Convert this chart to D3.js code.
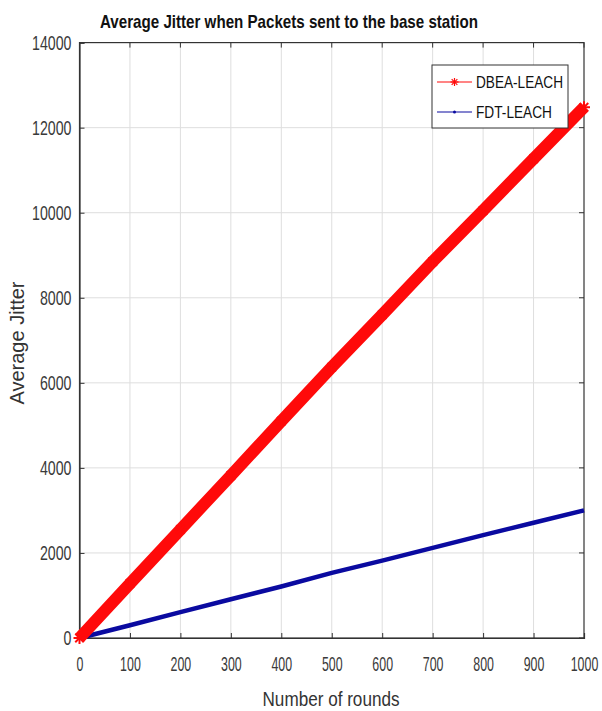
<!DOCTYPE html>
<html><head><meta charset="utf-8">
<script src="https://cdn.jsdelivr.net/npm/d3@7"></script>
<style>body{margin:0;background:#fff}svg{display:block}</style>
</head><body>
<script>
const rounds = [0,100,200,300,400,500,600,700,800,900,1000];
const dbea = [0,1280,2550,3820,5100,6370,7600,8850,10050,11270,12480];
const fdt = [0,300,610,910,1210,1530,1820,2120,2420,2710,3000];
const xTicks = [0,100,200,300,400,500,600,700,800,900,1000];
const yTicks = [0,2000,4000,6000,8000,10000,12000,14000];
const seriesNames = ["DBEA-LEACH","FDT-LEACH"];

const W=602,H=711;
const m={l:79.5,r:18,t:42.6,b:73};
const svg=d3.select("body").append("svg").attr("width",W).attr("height",H);
const x=d3.scaleLinear().domain([0,1000]).range([m.l,W-m.r]);
const y=d3.scaleLinear().domain([0,14000]).range([H-m.b,m.t]);
const font="'Liberation Sans',Arial,sans-serif";

// grid
svg.append("g").selectAll("line").data(xTicks.slice(1,-1)).join("line")
 .attr("x1",d=>x(d)).attr("x2",d=>x(d)).attr("y1",y(0)).attr("y2",y(14000))
 .attr("stroke","#dedede").attr("stroke-width",1);
svg.append("g").selectAll("line").data(yTicks.slice(1,-1)).join("line")
 .attr("y1",d=>y(d)).attr("y2",d=>y(d)).attr("x1",x(0)).attr("x2",x(1000))
 .attr("stroke","#dedede").attr("stroke-width",1);

// axes
const xa=svg.append("g").attr("transform",`translate(0,${y(0)})`)
 .call(d3.axisBottom(x).tickValues(xTicks).tickSize(-5).tickPadding(19).tickFormat(d3.format("d")));
const ya=svg.append("g").attr("transform",`translate(${x(0)},0)`)
 .call(d3.axisLeft(y).tickValues(yTicks).tickSize(-5).tickPadding(8).tickFormat(d3.format("d")));
[xa,ya].forEach(g=>{
 g.selectAll("text").attr("font-family",font).attr("font-size",20).attr("fill","#3a3a3a");
 g.selectAll("line").attr("stroke","#333");g.select(".domain").attr("stroke","#333").attr("stroke-width",1.2);});
xa.selectAll("text").attr("transform","scale(0.62,1)");
ya.selectAll("text").attr("x",-8/0.71).attr("transform","scale(0.71,1)");
// frame + top/right ticks
svg.append("rect").attr("x",x(0)).attr("y",y(14000)).attr("width",x(1000)-x(0)).attr("height",y(0)-y(14000))
 .attr("fill","none").attr("stroke","#333").attr("stroke-width",1.2);
svg.append("g").selectAll("line").data(xTicks).join("line")
 .attr("x1",d=>x(d)).attr("x2",d=>x(d)).attr("y1",y(14000)).attr("y2",y(14000)+5).attr("stroke","#333");
svg.append("g").selectAll("line").data(yTicks).join("line")
 .attr("y1",d=>y(d)).attr("y2",d=>y(d)).attr("x1",x(1000)).attr("x2",x(1000)-5).attr("stroke","#333");

const line=d3.line().x(d=>x(d[0])).y(d=>y(d[1]));
const red="#ff0a0a", blue="#0a0aa0";
const dData=rounds.map((r,i)=>[r,dbea[i]]);
const fData=rounds.map((r,i)=>[r,fdt[i]]);
svg.append("path").datum(fData).attr("d",line).attr("fill","none").attr("stroke",blue).attr("stroke-width",4.5);
svg.append("path").datum(dData).attr("d",line).attr("fill","none").attr("stroke",red).attr("stroke-width",12).attr("stroke-linecap","butt");

function asterisk(g,cx,cy,s,color,w){
 for(let a=0;a<4;a++){const t=a*Math.PI/4;
  g.append("line").attr("x1",cx-s*Math.cos(t)).attr("y1",cy-s*Math.sin(t))
   .attr("x2",cx+s*Math.cos(t)).attr("y2",cy+s*Math.sin(t)).attr("stroke",color).attr("stroke-width",w);}
}
const mk=svg.append("g");
dData.forEach(d=>asterisk(mk,x(d[0]),y(d[1]),6,red,2));

// title and labels
svg.append("text").attr("x",289).attr("y",28).attr("text-anchor","middle")
 .attr("font-family",font).attr("font-weight","bold").attr("font-size",19).attr("fill","#111")
 .attr("textLength",378).attr("lengthAdjust","spacingAndGlyphs")
 .text("Average Jitter when Packets sent to the base station");
svg.append("text").attr("x",331).attr("y",706).attr("text-anchor","middle")
 .attr("font-family",font).attr("font-size",20).attr("fill","#333")
 .attr("textLength",137).attr("lengthAdjust","spacingAndGlyphs").text("Number of rounds");
svg.append("text").attr("transform",`translate(24,343) rotate(-90)`).attr("text-anchor","middle")
 .attr("font-family",font).attr("font-size",20).attr("fill","#333").text("Average Jitter");

// legend
const lg=svg.append("g");
lg.append("rect").attr("x",432).attr("y",65).attr("width",136).attr("height",63).attr("fill","#fff").attr("stroke","#333").attr("stroke-width",1);
const cols=[red,blue], tl=[87,76];
seriesNames.forEach((n,i)=>{
 const yy=82+i*30;
 lg.append("line").attr("x1",437).attr("x2",472).attr("y1",yy).attr("y2",yy).attr("stroke",cols[i]).attr("stroke-width",1.2);
 if(i===0) asterisk(lg,454.5,yy,4,red,1.2); else lg.append("circle").attr("cx",454.5).attr("cy",yy).attr("r",1.5).attr("fill",blue);
 lg.append("text").attr("x",476).attr("y",yy+6).attr("font-family",font).attr("font-size",17).attr("fill","#111")
  .attr("textLength",tl[i]).attr("lengthAdjust","spacingAndGlyphs").text(n);
});
</script>
</body></html>
